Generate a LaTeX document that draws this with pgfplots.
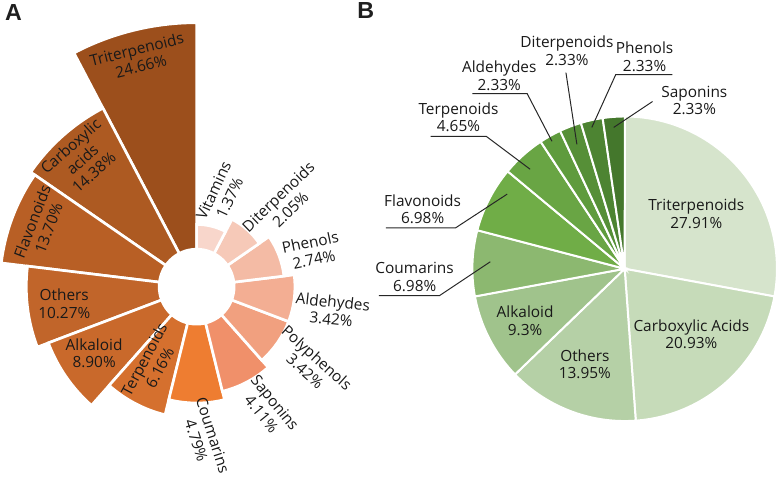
\documentclass[border=0pt]{standalone}
\usepackage{pgfplots}
\usepackage{pgfplotstable}
\pgfplotsset{compat=1.18}
\usepackage{fontspec}
\setmainfont{Open Sans}
\newfontfamily\panelfont{Liberation Sans}

% panel A colours, Triterpenoids ... Vitamins
\definecolor{cA0}{HTML}{9C4F1C}
\definecolor{cA1}{HTML}{AD5A22}
\definecolor{cA2}{HTML}{B85F25}
\definecolor{cA3}{HTML}{C1652A}
\definecolor{cA4}{HTML}{C9692B}
\definecolor{cA5}{HTML}{D5702E}
\definecolor{cA6}{HTML}{EE7D31}
\definecolor{cA7}{HTML}{F0906A}
\definecolor{cA8}{HTML}{F1A07F}
\definecolor{cA9}{HTML}{F3AE93}
\definecolor{cA10}{HTML}{F4BBA5}
\definecolor{cA11}{HTML}{F6C9B8}
\definecolor{cA12}{HTML}{F8D6CB}
% panel B colours, Triterpenoids ... Saponins
\definecolor{cB0}{HTML}{D6E4CC}
\definecolor{cB1}{HTML}{C6DBB9}
\definecolor{cB2}{HTML}{B5D0A6}
\definecolor{cB3}{HTML}{A0C38C}
\definecolor{cB4}{HTML}{8CB870}
\definecolor{cB5}{HTML}{70AD47}
\definecolor{cB6}{HTML}{69A544}
\definecolor{cB7}{HTML}{5F9B3D}
\definecolor{cB8}{HTML}{568F37}
\definecolor{cB9}{HTML}{4D8432}
\definecolor{cB10}{HTML}{44772C}

\tikzset{
  lab/.style={font=\fontsize{11.6pt}{13.2pt}\selectfont, align=center,
    text=black!90, inner sep=0pt},
  lead/.style={black!85, line width=0.75pt},
  panel/.style={font=\panelfont\bfseries\fontsize{17.5pt}{17.5pt}\selectfont,
    text=black!88, inner sep=0pt},
}

% A: rose chart, counterclockwise from 12 o'clock
\pgfplotstableread{
value
24.66
14.38
13.70
10.27
8.90
6.16
4.79
4.11
3.42
3.42
2.74
2.05
1.37
}\roseA

% B: pie chart, clockwise from 12 o'clock
\pgfplotstableread{
value
27.91
20.93
13.95
9.30
6.98
6.98
4.65
2.33
2.33
2.33
2.33
}\pieB

\begin{document}
\begin{tikzpicture}
\begin{axis}[
  x=0.75pt, y=0.75pt,
  xmin=0, xmax=782, ymin=0, ymax=474,
  hide axis, clip=false, scale only axis,
]
\path (0,0) rectangle (782,474);

% ---- A ----
\pgfplotsinvokeforeach{0,...,12}{%
  \pgfplotstablegetelem{#1}{value}\of\roseA
  \pgfmathsetmacro\rr{53.4*sqrt(\pgfplotsretval)*0.75}%
  \pgfmathsetmacro\aa{90+#1*360/13}%
  \pgfmathsetmacro\bb{90+(#1+1)*360/13}%
  \edef\temp{\noexpand\addplot[fill=cA#1, draw=white, line width=2pt]
    coordinates {(195,186)} -- ++(\aa:\rr pt)
    arc[start angle=\aa, end angle=\bb, radius=\rr pt] -- cycle;}%
  \temp
}
\fill[white] (195,186) circle[radius=29.25pt];

\node[lab, rotate=14] at (137,416) {Triterpenoids\\24.66\%};
\node[lab, rotate=41.5] at (80,314) {Carboxylic\\acids\\14.38\%};
\node[lab, rotate=69] at (38,248) {Flavonoids\\13.70\%};
\node[lab] at (62,169) {Others\\10.27\%};
\node[lab] at (92,119) {Alkaloid\\8.90\%};
\node[lab, rotate=62] at (150,109) {Terpenoids\\6.16\%};
\node[lab, rotate=-72] at (203,34) {Coumarins\\4.79\%};
\node[lab, rotate=-51] at (267,64) {Saponins\\4.11\%};
\node[lab, rotate=-42] at (310,108) {Polyphenols\\3.42\%};
\node[lab, rotate=-6] at (331,162) {Aldehydes\\3.42\%};
\node[lab, rotate=12] at (311,222) {Phenols\\2.74\%};
\node[lab, rotate=44] at (283,270) {Diterpenoids\\2.05\%};
\node[lab, rotate=65] at (220,279) {Vitamins\\1.37\%};

% ---- B ----
\gdef\cumB{0}
\pgfplotsinvokeforeach{0,...,10}{%
  \pgfplotstablegetelem{#1}{value}\of\pieB
  \pgfmathsetmacro\aa{90-3.6*\cumB}%
  \pgfmathsetmacro\bb{90-3.6*(\cumB+\pgfplotsretval)}%
  \pgfmathparse{\cumB+\pgfplotsretval}\xdef\cumB{\pgfmathresult}%
  \edef\temp{\noexpand\addplot[fill=cB#1, draw=white, line width=1.5pt]
    coordinates {(625,204)} -- ++(\aa:114.75pt)
    arc[start angle=\aa, end angle=\bb, radius=114.75pt] -- cycle;}%
  \temp
}

\node[lab] at (697,259) {Triterpenoids\\27.91\%};
\node[lab] at (692,138) {Carboxylic Acids\\20.93\%};
\node[lab] at (585,108) {Others\\13.95\%};
\node[lab] at (525,152) {Alkaloid\\9.3\%};

\draw[lead] (490,211) -- (439,177) -- (378,177);
\node[lab] at (414,196) {Coumarins\\6.98\%};
\draw[lead] (507,279) -- (455,245) -- (385,245);
\node[lab] at (422,264) {Flavonoids\\6.98\%};
\draw[lead] (530,304) -- (486,337) -- (430,337);
\node[lab] at (458,356) {Terpenoids\\4.65\%};
\draw[lead] (552,332) -- (527,380) -- (472,380);
\node[lab] at (499,398) {Aldehydes\\2.33\%};
\draw[lead] (577,329) -- (566,401);
\node[lab] at (567,423) {Diterpenoids\\2.33\%};
\draw[lead] (592,346) -- (616,399) -- (673,399);
\node[lab] at (645,417) {Phenols\\2.33\%};
\draw[lead] (614,346) -- (653,372);
\node[lab] at (695,373) {Saponins\\2.33\%};

\node[panel] at (11,461) {A};
\node[panel] at (365,463.5) {B};
\end{axis}
\end{tikzpicture}
\end{document}
